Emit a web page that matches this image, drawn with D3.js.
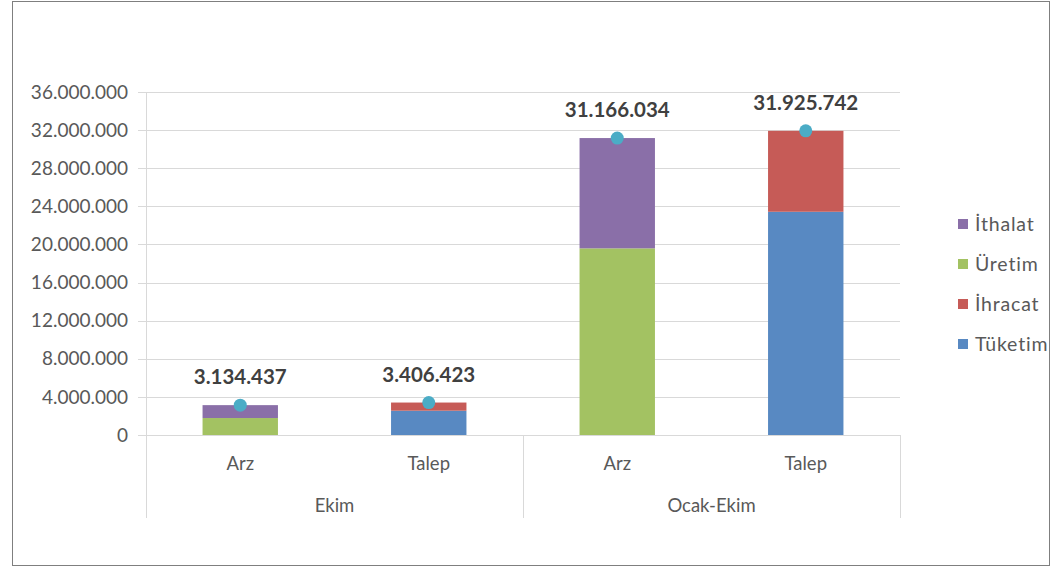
<!DOCTYPE html>
<html>
<head>
<meta charset="utf-8">
<script src="https://cdn.jsdelivr.net/npm/d3@7"></script>
<style>
  body { margin: 0; background: #fff; }
  text { font-family: Lato, "Open Sans", sans-serif; }
</style>
</head>
<body>
<div id="container"></div>
<script>
// data
const groups = ["Ekim", "Ocak-Ekim"];
const cats = ["Arz", "Talep", "Arz", "Talep"];
const catGroup = [0, 0, 1, 1];
const uretim  = [1780000, 0, 19590000, 0];
const ithalat = [1354437, 0, 11576034, 0];
const tuketim = [0, 2550000, 0, 23430000];
const ihracat = [0, 856423, 0, 8495742];
const totals = [3134437, 3406423, 31166034, 31925742];
const yTicks = [0, 4000000, 8000000, 12000000, 16000000, 20000000, 24000000, 28000000, 32000000, 36000000];

const series = [
  { name: "Tüketim", values: tuketim, color: "#5889c2" },
  { name: "İhracat", values: ihracat, color: "#c65b57" },
  { name: "Üretim", values: uretim, color: "#a3c262" },
  { name: "İthalat", values: ithalat, color: "#8a6fa8" }
];
// stack order bottom->top per bar
const stackOrder = ["Üretim", "Tüketim", "İthalat", "İhracat"];
const legendOrder = ["İthalat", "Üretim", "İhracat", "Tüketim"];

const width = 1052, height = 568;
const plot = { left: 146, right: 900, top: 92, bottom: 435 };

const svg = d3.select("#container").append("svg")
  .attr("width", width)
  .attr("height", height);

// outer frame
svg.append("rect")
  .attr("x", 12.5).attr("y", 1.5)
  .attr("width", 1037).attr("height", 564)
  .attr("fill", "none")
  .attr("stroke", "#7f7f7f");

const x = d3.scaleBand()
  .domain(d3.range(cats.length))
  .range([plot.left, plot.right])
  .paddingInner(0.6)
  .paddingOuter(0.3);

const y = d3.scaleLinear()
  .domain([0, 36000000])
  .range([plot.bottom, plot.top]);

const fmt = v => d3.format(",")(v).replace(/,/g, ".");

// gridlines + y labels
svg.append("g").selectAll("line")
  .data(yTicks)
  .join("line")
    .attr("x1", plot.left - 8).attr("x2", plot.right)
    .attr("y1", d => Math.round(y(d)) + 0.5).attr("y2", d => Math.round(y(d)) + 0.5)
    .attr("stroke", "#d9d9d9");

svg.append("g").selectAll("text")
  .data(yTicks)
  .join("text")
    .attr("x", 128)
    .attr("y", d => y(d))
    .attr("dy", "0.35em")
    .attr("text-anchor", "end")
    .attr("font-size", 19)
    .attr("fill", "#595959")
    .text(fmt);

// vertical axis line and group separators
[plot.left, (plot.left + plot.right) / 2, plot.right].forEach(px => {
  svg.append("line")
    .attr("x1", Math.round(px) + 0.5).attr("x2", Math.round(px) + 0.5)
    .attr("y1", px === plot.left ? plot.top : plot.bottom)
    .attr("y2", 518)
    .attr("stroke", "#d9d9d9");
});

// stacked bars
const bars = svg.append("g");
cats.forEach((c, i) => {
  let base = 0;
  stackOrder.forEach(name => {
    const s = series.find(d => d.name === name);
    const v = s.values[i];
    if (!v) return;
    bars.append("rect")
      .attr("x", x(i))
      .attr("width", x.bandwidth())
      .attr("y", y(base + v))
      .attr("height", y(base) - y(base + v))
      .attr("fill", s.color);
    base += v;
  });
});

// total dots and labels
svg.append("g").selectAll("circle")
  .data(totals)
  .join("circle")
    .attr("cx", (d, i) => x(i) + x.bandwidth() / 2)
    .attr("cy", d => y(d))
    .attr("r", 6.5)
    .attr("fill", "#4bacc6");

svg.append("g").selectAll("text")
  .data(totals)
  .join("text")
    .attr("x", (d, i) => x(i) + x.bandwidth() / 2)
    .attr("y", d => y(d) - 21)
    .attr("text-anchor", "middle")
    .attr("font-size", 20.5)
    .attr("font-weight", "bold")
    .attr("fill", "#404040")
    .text(fmt);

// category labels
svg.append("g").selectAll("text")
  .data(cats)
  .join("text")
    .attr("x", (d, i) => x(i) + x.bandwidth() / 2)
    .attr("y", 470)
    .attr("text-anchor", "middle")
    .attr("font-size", 18.5)
    .attr("fill", "#595959")
    .text(d => d);

svg.append("g").selectAll("text")
  .data(groups)
  .join("text")
    .attr("x", (d, gi) => {
      const idx = d3.range(cats.length).filter(i => catGroup[i] === gi);
      return d3.mean(idx, i => x(i) + x.bandwidth() / 2);
    })
    .attr("y", 512)
    .attr("text-anchor", "middle")
    .attr("font-size", 18.5)
    .attr("fill", "#595959")
    .text(d => d);

// legend
const legend = svg.append("g").selectAll("g")
  .data(legendOrder)
  .join("g")
    .attr("transform", (d, i) => `translate(958, ${224 + i * 40})`);

legend.append("rect")
  .attr("x", 0).attr("y", -5)
  .attr("width", 10).attr("height", 10)
  .attr("fill", d => series.find(s => s.name === d).color);

legend.append("text")
  .attr("x", 17)
  .attr("dy", "0.35em")
  .attr("font-size", 19.5)
  .attr("letter-spacing", 0.8)
  .attr("fill", "#595959")
  .text(d => d);
</script>
</body>
</html>
